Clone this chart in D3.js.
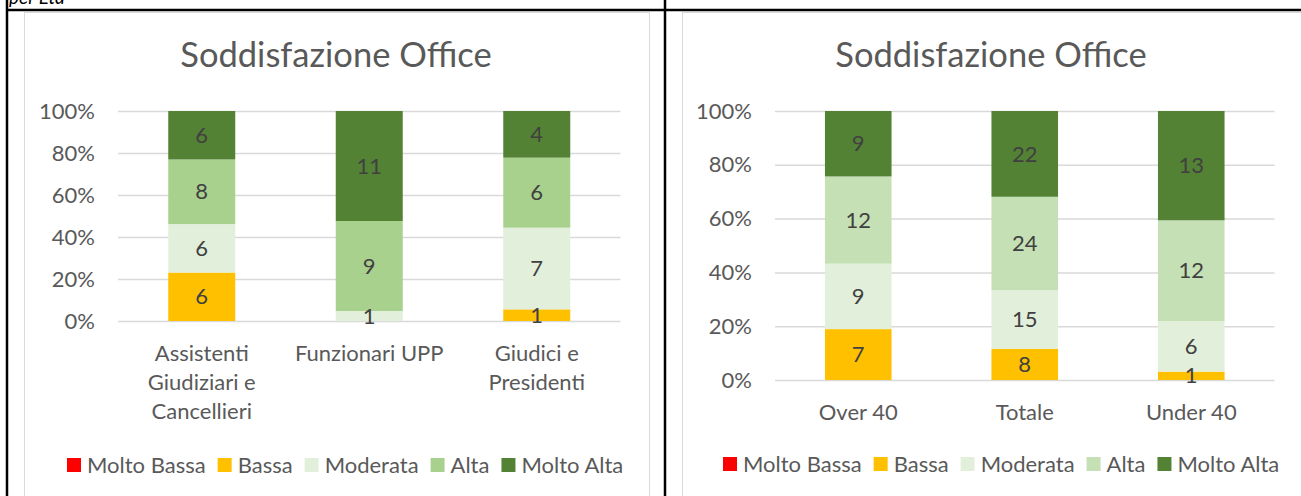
<!DOCTYPE html>
<html>
<head>
<meta charset="utf-8">
<script src="https://cdn.jsdelivr.net/npm/d3@7"></script>
<style>
	body { margin: 0; background: #fff; }
	svg { display: block; font-family: Lato, "Open Sans", sans-serif; }
	.axis { font-family: Lato, "Open Sans", sans-serif; }
	.axis text { fill: #595959; font-size: 22px; }
	.grid line { stroke: #d9d9d9; stroke-width: 1.5; }
	.grid .domain, .axis .domain { display: none; }
	.datalabel { fill: #404040; font-size: 22px; text-anchor: middle; }
	.legend text { fill: #595959; font-size: 22px; }
	.charttitle { fill: #595959; font-size: 34.5px; font-weight: 400; text-anchor: middle; }
</style>
</head>
<body>
<svg id="page" width="1301" height="496"></svg>
<script>
// chart data
var chartTitle = "Soddisfazione Office";
var levels = ["Molto Bassa", "Bassa", "Moderata", "Alta", "Molto Alta"];
var yTicks = [0, 0.2, 0.4, 0.6, 0.8, 1];

// left chart: per ruolo
var categories1 = ["Assistenti Giudiziari e Cancellieri", "Funzionari UPP", "Giudici e Presidenti"];
var moltoBassa1 = [0, 0, 0];
var bassa1 = [6, 0, 1];
var moderata1 = [6, 1, 7];
var alta1 = [8, 9, 6];
var moltoAlta1 = [6, 11, 4];
var colors1 = ["#FF0000", "#FFC000", "#E2EFDA", "#A9D18E", "#548235"];

// right chart: per eta
var categories2 = ["Over 40", "Totale", "Under 40"];
var moltoBassa2 = [0, 0, 0];
var bassa2 = [7, 8, 1];
var moderata2 = [9, 15, 6];
var alta2 = [12, 24, 12];
var moltoAlta2 = [9, 22, 13];
var colors2 = ["#FF0000", "#FFC000", "#E2EFDA", "#C5E0B4", "#548235"];


function wrap(text, width) {
	text.each(function() {
		var text = d3.select(this),
			words = text.text().split(/\s+/).reverse(),
			word,
			line = [],
			lineNumber = 0,
			y = text.attr("y"),
			tspan = text.text(null).append("tspan").attr("x", 0).attr("y", y).attr("dy", "0.35em");
		while (word = words.pop()) {
			line.push(word);
			tspan.text(line.join(" "));
			if (tspan.node().getComputedTextLength() > width && line.length > 1) {
				line.pop();
				tspan.text(line.join(" "));
				line = [word];
				lineNumber++;
				tspan = text.append("tspan").attr("x", 0).attr("y", y)
					.attr("dy", (0.35 + lineNumber * 1.33) + "em").text(word);
			}
		}
	});
}


function drawChart(svg, cfg) {
	var table = cfg.categories.map(function(c, i) {
		var row = {name: c};
		levels.forEach(function(l, j) { row[l] = cfg.series[j][i]; });
		return row;
	});

	var stack = d3.stack()
		.keys(levels)
		.offset(d3.stackOffsetExpand);
	var layers = stack(table);

	var x = d3.scaleBand()
		.domain(cfg.categories)
		.range([cfg.left, cfg.right])
		.paddingInner(0.6)
		.paddingOuter(0.3);

	var y = d3.scaleLinear()
		.domain([0, 1])
		.range([cfg.bottom, cfg.top]);

	var color = d3.scaleOrdinal()
		.domain(levels)
		.range(cfg.colors);

	// chart frame
	svg.append("rect")
		.attr("x", cfg.frameX + 0.5)
		.attr("y", 12.5)
		.attr("width", cfg.frameW)
		.attr("height", 520)
		.attr("fill", "#fff")
		.attr("stroke", "#d9d9d9");

	svg.append("text")
		.attr("class", "charttitle")
		.attr("x", cfg.titleX)
		.attr("y", 67)
		.text(chartTitle);

	// gridlines
	svg.append("g")
		.attr("class", "grid")
		.attr("transform", "translate(" + cfg.left + ",0)")
		.call(d3.axisLeft(y).tickValues(yTicks).tickSize(-(cfg.right - cfg.left)).tickFormat(""));

	// y axis labels
	svg.append("g")
		.attr("class", "axis")
		.attr("transform", "translate(" + cfg.left + ",0)")
		.call(d3.axisLeft(y).tickValues(yTicks).tickSize(0).tickPadding(23).tickFormat(d3.format(".0%")));

	// x axis labels
	var xAx = svg.append("g")
		.attr("class", "axis")
		.attr("transform", "translate(0," + cfg.bottom + ")")
		.call(d3.axisBottom(x).tickSize(0));
	xAx.selectAll("text")
		.attr("y", 32)
		.call(wrap, x.step());

	// bars
	var layer = svg.selectAll(".layer" + cfg.id)
		.data(layers)
	  .enter().append("g")
		.attr("fill", function(d) { return color(d.key); });

	layer.selectAll("rect")
		.data(function(d) { return d; })
	  .enter().append("rect")
		.attr("x", function(d) { return x(d.data.name); })
		.attr("y", function(d) { return y(d[1]); })
		.attr("width", x.bandwidth())
		.attr("height", function(d) { return y(d[0]) - y(d[1]); });

	// data labels
	layers.forEach(function(s) {
		svg.selectAll(null)
			.data(s.filter(function(d) { return d.data[s.key] > 0; }))
		  .enter().append("text")
			.attr("class", "datalabel")
			.attr("x", function(d) { return x(d.data.name) + x.bandwidth() / 2; })
			.attr("y", function(d) { return y((d[0] + d[1]) / 2); })
			.attr("dy", "0.35em")
			.text(function(d) { return d.data[s.key]; });
	});

	// legend
	var legend = svg.append("g")
		.attr("class", "legend")
		.attr("transform", "translate(" + cfg.legendX + "," + cfg.legendY + ")");
	var cursor = 0;
	levels.forEach(function(l) {
		legend.append("rect")
			.attr("x", cursor)
			.attr("y", -7)
			.attr("width", 14)
			.attr("height", 14)
			.attr("fill", color(l));
		var t = legend.append("text")
			.attr("x", cursor + 20)
			.attr("dy", "0.35em")
			.text(l);
		cursor += 20 + t.node().getComputedTextLength() + 12;
	});
}


var svg = d3.select("#page");

svg.append("text")
	.attr("x", 9)
	.attr("y", 4)
	.attr("font-size", 19)
	.attr("font-style", "italic")
	.attr("fill", "#000")
	.text("per Età");

drawChart(svg, {
	id: 1, categories: categories1,
	series: [moltoBassa1, bassa1, moderata1, alta1, moltoAlta1],
	colors: colors1,
	left: 118, right: 620.5, top: 111, bottom: 321,
	frameX: 24, frameW: 625, titleX: 336,
	legendX: 67, legendY: 465
});

drawChart(svg, {
	id: 2, categories: categories2,
	series: [moltoBassa2, bassa2, moderata2, alta2, moltoAlta2],
	colors: colors2,
	left: 775, right: 1274.5, top: 111, bottom: 380,
	frameX: 682, frameW: 700, titleX: 991,
	legendX: 723, legendY: 464
});

// table borders of the document
svg.append("line").attr("x1", 7).attr("x2", 1301).attr("y1", 10).attr("y2", 10)
	.attr("stroke", "#000").attr("stroke-width", 2.5);
svg.append("line").attr("x1", 7).attr("x2", 7).attr("y1", 0).attr("y2", 496)
	.attr("stroke", "#000").attr("stroke-width", 2.5);
svg.append("line").attr("x1", 665).attr("x2", 665).attr("y1", 0).attr("y2", 496)
	.attr("stroke", "#000").attr("stroke-width", 2.5);
</script>
</body>
</html>
